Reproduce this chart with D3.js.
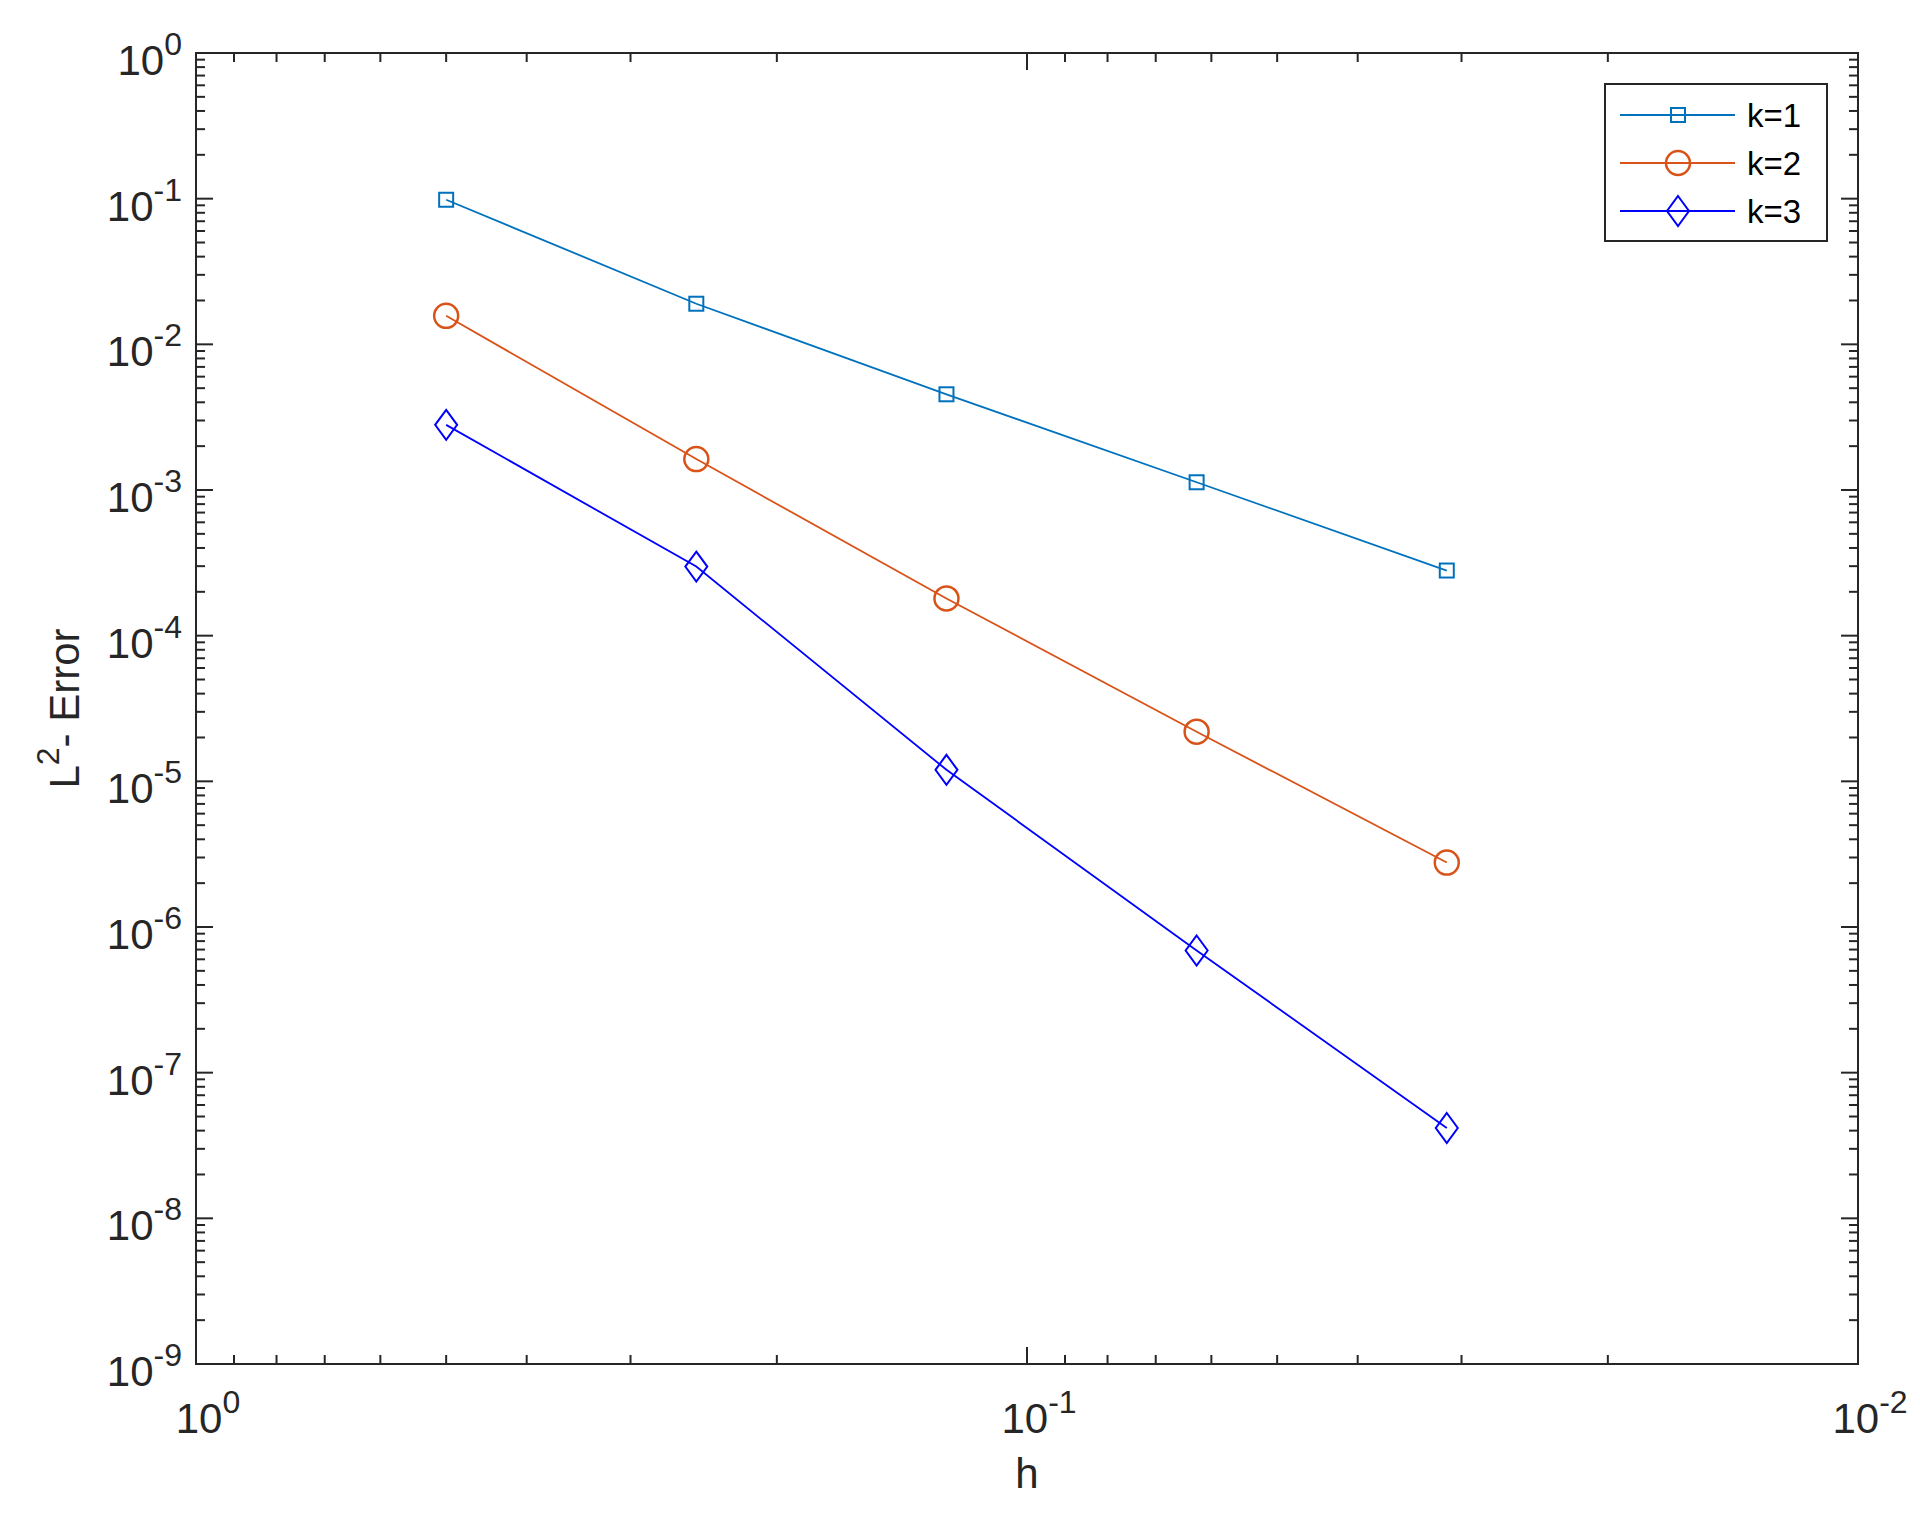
<!DOCTYPE html>
<meta charset="utf-8">
<style>
    body { margin: 0; background: white; }
    text { font-family: "Liberation Sans", Arial, sans-serif; fill: #262626; }
</style>
<body>
<script src="https://d3js.org/d3.v7.min.js"></script>
<script>
    var width = 1920, height = 1517;

    // data
    var hValues = [0.5, 0.25, 0.125, 0.0625, 0.03125];
    var errK1 = [0.0983, 0.019, 0.00454, 0.00113, 2.8e-4];
    var errK2 = [0.0157, 0.00163, 1.8e-4, 2.19e-5, 2.77e-6];
    var errK3 = [0.0028, 2.98e-4, 1.2e-5, 6.9e-7, 4.17e-8];
    var seriesNames = ["k=1", "k=2", "k=3"];
    var seriesColors = ["#0072BD", "#D95319", "#0000FF"];
    var seriesMarkers = ["square", "circle", "diamond"];
    var xTickExp = [0, -1, -2];
    var yTickExp = [0, -1, -2, -3, -4, -5, -6, -7, -8, -9];

    var pLeft = 196, pRight = 1858, pTop = 53, pBottom = 1364;

    var x = d3.scaleLog().domain([1, 0.01]).range([pLeft, pRight]);
    var y = d3.scaleLog().domain([1e-9, 1]).range([pBottom, pTop]);

    var svg = d3.select("body").append("svg")
        .attr("width", width).attr("height", height);

    var axisCol = "#262626";

    // minor + major ticks on all four sides
    var g = svg.append("g").attr("stroke", axisCol).attr("stroke-width", 2);
    function minorVals(lo, hi) {
        var out = [];
        for (var e = lo; e < hi; e++)
            for (var m = 2; m <= 9; m++) out.push(m * Math.pow(10, e));
        return out;
    }
    minorVals(-2, 0).forEach(function (v) {
        g.append("line").attr("x1", x(v)).attr("x2", x(v)).attr("y1", pBottom).attr("y2", pBottom - 9);
        g.append("line").attr("x1", x(v)).attr("x2", x(v)).attr("y1", pTop).attr("y2", pTop + 9);
    });
    xTickExp.forEach(function (e) {
        var v = Math.pow(10, e);
        g.append("line").attr("x1", x(v)).attr("x2", x(v)).attr("y1", pBottom).attr("y2", pBottom - 17);
        g.append("line").attr("x1", x(v)).attr("x2", x(v)).attr("y1", pTop).attr("y2", pTop + 17);
    });
    minorVals(-9, 0).forEach(function (v) {
        g.append("line").attr("y1", y(v)).attr("y2", y(v)).attr("x1", pLeft).attr("x2", pLeft + 9);
        g.append("line").attr("y1", y(v)).attr("y2", y(v)).attr("x1", pRight).attr("x2", pRight - 9);
    });
    yTickExp.forEach(function (e) {
        var v = Math.pow(10, e);
        g.append("line").attr("y1", y(v)).attr("y2", y(v)).attr("x1", pLeft).attr("x2", pLeft + 17);
        g.append("line").attr("y1", y(v)).attr("y2", y(v)).attr("x1", pRight).attr("x2", pRight - 17);
    });
    svg.append("rect").attr("x", pLeft).attr("y", pTop)
        .attr("width", pRight - pLeft).attr("height", pBottom - pTop)
        .attr("fill", "none").attr("stroke", axisCol).attr("stroke-width", 2);

    // tick labels
    function powLabel(sel, e) {
        sel.append("tspan").text("10");
        sel.append("tspan").attr("dy", -20).attr("font-size", 32).text(e);
    }
    yTickExp.forEach(function (e) {
        var t = svg.append("text").attr("x", pLeft - 14).attr("y", y(Math.pow(10, e)) + 22)
            .attr("text-anchor", "end").attr("font-size", 42);
        powLabel(t, e);
    });
    xTickExp.forEach(function (e) {
        var t = svg.append("text").attr("x", x(Math.pow(10, e)) + 12).attr("y", 1433)
            .attr("text-anchor", "middle").attr("font-size", 42);
        powLabel(t, e);
    });

    // axis labels
    svg.append("text").attr("x", (pLeft + pRight) / 2).attr("y", 1488)
        .attr("text-anchor", "middle").attr("font-size", 42).text("h");
    var yl = svg.append("text").attr("transform", "translate(79," + ((pTop + pBottom) / 2) + ") rotate(-90)")
        .attr("text-anchor", "middle").attr("font-size", 42);
    yl.append("tspan").text("L");
    yl.append("tspan").attr("dy", -20).attr("font-size", 32).text("2");
    yl.append("tspan").attr("dy", 20).text("- Error");

    // series
    var allErr = [errK1, errK2, errK3];
    function drawMarker(sel, kind, cx, cy, color) {
        if (kind === "square") {
            sel.append("rect").attr("x", cx - 7).attr("y", cy - 7).attr("width", 14).attr("height", 14)
                .attr("fill", "none").attr("stroke", color).attr("stroke-width", 2);
        } else if (kind === "circle") {
            sel.append("circle").attr("cx", cx).attr("cy", cy).attr("r", 12)
                .attr("fill", "none").attr("stroke", color).attr("stroke-width", 2.5);
        } else {
            sel.append("path").attr("d", "M" + cx + "," + (cy - 15) + "L" + (cx + 11) + "," + cy +
                "L" + cx + "," + (cy + 15) + "L" + (cx - 11) + "," + cy + "Z")
                .attr("fill", "none").attr("stroke", color).attr("stroke-width", 2);
        }
    }
    var line = d3.line().x(function (d) { return x(d[0]); }).y(function (d) { return y(d[1]); });
    allErr.forEach(function (errs, i) {
        var pts = hValues.map(function (h, j) { return [h, errs[j]]; });
        svg.append("path").attr("d", line(pts)).attr("fill", "none")
            .attr("stroke", seriesColors[i]).attr("stroke-width", 1.8);
        pts.forEach(function (p) { drawMarker(svg, seriesMarkers[i], x(p[0]), y(p[1]), seriesColors[i]); });
    });

    // legend
    svg.append("rect").attr("x", 1605).attr("y", 84).attr("width", 222).attr("height", 157)
        .attr("fill", "white").attr("stroke", axisCol).attr("stroke-width", 2);
    seriesNames.forEach(function (name, i) {
        var ly = 115 + i * 48;
        svg.append("line").attr("x1", 1620).attr("x2", 1735).attr("y1", ly).attr("y2", ly)
            .attr("stroke", seriesColors[i]).attr("stroke-width", 1.8);
        drawMarker(svg, seriesMarkers[i], 1678, ly, seriesColors[i]);
        svg.append("text").attr("x", 1747).attr("y", ly + 12).attr("font-size", 33)
            .style("fill", "#000").text(name);
    });
</script>
</body>
